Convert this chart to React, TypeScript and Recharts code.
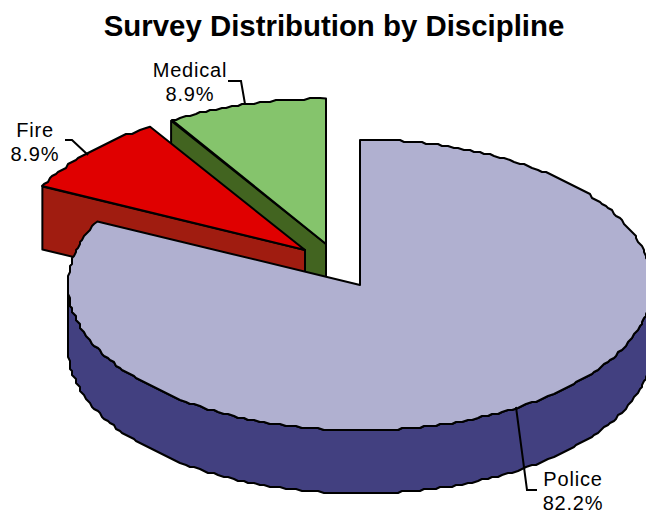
import React from "react";
import { PieChart, Pie } from "recharts";

// Survey share per discipline, in percent
const disciplines = ["Medical", "Fire", "Police"];
const shares = [8.9, 8.9, 82.2];
const surveyRows = disciplines.map((name, i) => ({ name, value: shares[i] }));

const TOP_COLORS: Record<string, string> = { Medical: "#85C46C", Fire: "#E00000", Police: "#B0B0D0" };
const SIDE_COLORS: Record<string, string> = { Medical: "#426420", Fire: "#A01C10", Police: "#424080" };

// Pulled-out wedges
const EXPLODE: Record<string, [number, number]> = { Medical: [-34, -41], Fire: [-55, -35], Police: [0, 0] };

// Label anchor and leader polyline for each wedge
const LABELS: Record<string, { x: number; y: number; leader: string }> = {
  Medical: { x: 190, y: 77, leader: "228,81 241,81 245,104" },
  Fire: { x: 35, y: 137, leader: "65,140 72,140 88,155" },
  Police: { x: 573, y: 486, leader: "516,407 527,490 537,490" },
};

const TILT = 0.498; // vertical squash of the disc
const DEPTH = 63; // extrusion height
const GRID = 2; // outline quantisation, gives the stepped plotter edge

const snap = (v: number) => Math.round(v / GRID) * GRID;
const toPath = (pts: number[][]) =>
  "M" + pts.map((p) => `${p[0]},${p[1]}`).join("L") + "Z";

function Wedge3D(props: any) {
  const { cx, cy, outerRadius, startAngle, endAngle, name } = props;
  const label = name ?? props.payload?.name;
  const [ox, oy] = EXPLODE[label];
  const tip = [cx + ox, cy + oy];
  // Walk the rim clockwise on screen, which is decreasing polar angle
  const pts: number[][] = [tip];
  const steps = Math.max(4, Math.round((endAngle - startAngle) / 1.1));
  for (let i = 0; i <= steps; i++) {
    const a = ((endAngle - ((endAngle - startAngle) * i) / steps) * Math.PI) / 180;
    pts.push([tip[0] + outerRadius * Math.cos(a), tip[1] - outerRadius * TILT * Math.sin(a)]);
  }
  // Faces that look at the viewer are the outline runs heading left
  const runs: number[][][] = [];
  let run: number[][] | null = null;
  for (let i = 0; i < pts.length; i++) {
    const p = pts[i];
    const q = pts[(i + 1) % pts.length];
    if (q[0] - p[0] < -1e-6) {
      if (!run) run = [p];
      run.push(q);
    } else if (run) {
      runs.push(run);
      run = null;
    }
  }
  if (run) runs.push(run);
  const rough = (p: number[], i: number, all: number[][]) =>
    i === 0 || i === all.length - 1 ? p : [snap(p[0]), snap(p[1])];
  return (
    <g>
      {runs.map((r, i) => {
        const edge = r.map(rough);
        const lower = [...edge].reverse().map((p) => [p[0], p[1] + DEPTH]);
        return (
          <path
            key={i}
            d={toPath([...edge, ...lower])}
            fill={SIDE_COLORS[label]}
            stroke="#000"
            strokeWidth={2}
            strokeLinejoin="round"
          />
        );
      })}
      <path
        d={toPath(pts.map(rough))}
        fill={TOP_COLORS[label]}
        stroke="#000"
        strokeWidth={2}
        strokeLinejoin="round"
      />
    </g>
  );
}

function WedgeLabel(props: any) {
  const { name, value } = props;
  const spot = LABELS[name];
  return (
    <g>
      <polyline points={spot.leader} fill="none" stroke="#000" strokeWidth={2} />
      <text x={spot.x} y={spot.y} textAnchor="middle" fontSize={20} letterSpacing={0.8} fill="#000"
        fontFamily="'Liberation Sans', Arial, sans-serif">
        {name}
      </text>
      <text x={spot.x} y={spot.y + 23.5} textAnchor="middle" fontSize={20} letterSpacing={0.8} fill="#000"
        fontFamily="'Liberation Sans', Arial, sans-serif">
        {`${value.toFixed(1)}%`}
      </text>
    </g>
  );
}

export default function App() {
  return (
    <div style={{ position: "fixed", left: 0, top: 0, width: 646, height: 512, background: "#fff" }}>
      <PieChart width={646} height={512} margin={{ top: 0, right: 0, bottom: 0, left: 0 }}>
        <text x={334} y={36} textAnchor="middle" fontSize={29.4} fontWeight="bold" fill="#000"
          fontFamily="'Liberation Sans', Arial, sans-serif">
          Survey Distribution by Discipline
        </text>
        <Pie
          data={surveyRows}
          dataKey="value"
          nameKey="name"
          cx={360}
          cy={285}
          outerRadius={292}
          innerRadius={0}
          startAngle={90}
          endAngle={450}
          stroke="none"
          shape={Wedge3D}
          label={WedgeLabel}
          labelLine={false}
          isAnimationActive={false}
        />
      </PieChart>
    </div>
  );
}
